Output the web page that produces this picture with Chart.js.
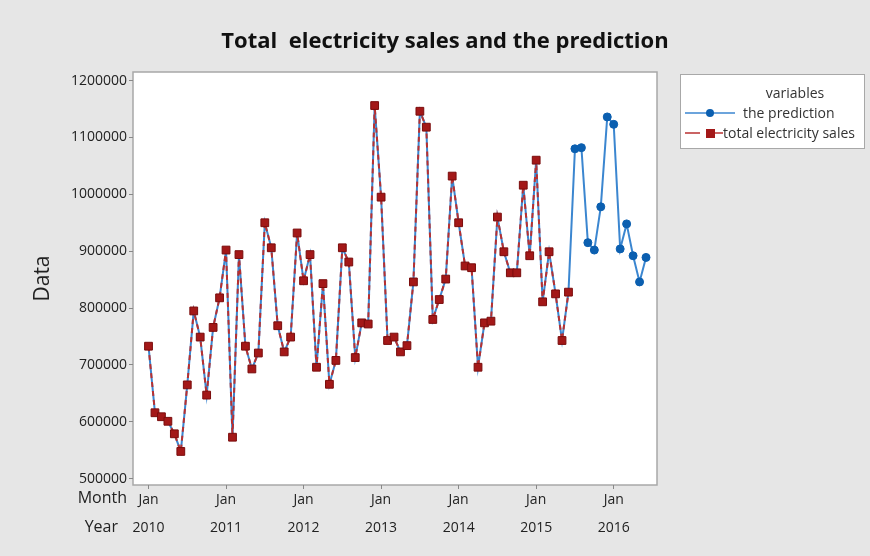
<!DOCTYPE html>
<html>
<head>
<meta charset="utf-8">
<script src="https://cdn.jsdelivr.net/npm/chart.js@4.4.0/dist/chart.umd.min.js"></script>
<style>
  html, body { margin: 0; padding: 0; background: #e6e6e6; }
</style>
</head>
<body>
<canvas id="myChart" width="870" height="556"></canvas>
<script>
// monthly sales, Jan 2010 .. Jun 2015
const sales = [
  733000, 616000, 609000, 601000, 579000, 548000, 665000, 795000, 749000, 647000, 766000, 818000,
  902000, 573000, 894000, 733000, 693000, 721000, 950000, 906000, 769000, 723000, 749000, 932000,
  848000, 894000, 696000, 843000, 666000, 708000, 906000, 881000, 713000, 774000, 772000, 1156000,
  995000, 743000, 749000, 723000, 734000, 846000, 1146000, 1118000, 780000, 815000, 851000, 1032000,
  950000, 874000, 871000, 696000, 774000, 777000, 960000, 899000, 862000, 862000, 1016000, 892000,
  1060000, 811000, 899000, 825000, 743000, 828000
];
// forecast, Jul 2015 .. Jun 2016
const forecast = [1080000, 1082000, 915000, 902000, 978000, 1136000, 1123000, 904000, 948000, 892000, 846000, 889000];
const prediction = sales.concat(forecast);

const xTickValues = [0, 12, 24, 36, 48, 60, 72];
const monthTicks = ["Jan", "Jan", "Jan", "Jan", "Jan", "Jan", "Jan"];
const yearTicks = ["2010", "2011", "2012", "2013", "2014", "2015", "2016"];
const yTicks = [500000, 600000, 700000, 800000, 900000, 1000000, 1100000, 1200000];

const FONT = "'Open Sans', 'Noto Sans', sans-serif";
const RED = "#a31818";
const BLUE = "#0b5fb0";

const frame = {
  id: "frame",
  beforeDraw(chart) {
    const { ctx, chartArea: a } = chart;
    ctx.save();
    ctx.fillStyle = "#e6e6e6";
    ctx.fillRect(0, 0, chart.width, chart.height);
    ctx.fillStyle = "#fff";
    ctx.fillRect(a.left, a.top, a.right - a.left, a.bottom - a.top);
    ctx.strokeStyle = "#a8a8a8";
    ctx.lineWidth = 1.5;
    ctx.strokeRect(a.left, a.top, a.right - a.left, a.bottom - a.top);
    ctx.restore();
  },
  afterDraw(chart) {
    const { ctx } = chart;
    const xs = chart.scales.x;
    ctx.save();
    // title
    ctx.fillStyle = "#111";
    ctx.font = "bold 22px " + FONT;
    ctx.textAlign = "center";
    ctx.textBaseline = "middle";
    ctx.fillText("Total  electricity sales and the prediction", 445, 42);

    // row headers for the two x label rows
    ctx.font = "16px " + FONT;
    ctx.fillStyle = "#222";
    ctx.textAlign = "right";
    ctx.fillText("Month", xs.left - 6, 498);
    ctx.fillText("Year", xs.left - 15, 527);

    // legend
    const lx = 680, ly = 74, lw = 184, lh = 74;
    ctx.fillStyle = "#fff";
    ctx.fillRect(lx, ly, lw, lh);
    ctx.strokeStyle = "#a8a8a8";
    ctx.lineWidth = 1;
    ctx.strokeRect(lx + 0.5, ly + 0.5, lw, lh);
    ctx.font = "14px " + FONT;
    ctx.fillStyle = "#333";
    ctx.textAlign = "center";
    ctx.fillText("variables", 795, 94);
    ctx.textAlign = "left";
    ctx.fillText("the prediction", 743, 114);
    ctx.fillText("total electricity sales", 723, 134);

    ctx.strokeStyle = "#3b86d0";
    ctx.lineWidth = 1.5;
    ctx.beginPath(); ctx.moveTo(685, 113); ctx.lineTo(735, 113); ctx.stroke();
    ctx.fillStyle = BLUE;
    ctx.beginPath(); ctx.arc(710, 113, 4, 0, Math.PI * 2); ctx.fill();

    ctx.strokeStyle = "#b83030";
    ctx.beginPath(); ctx.moveTo(685, 133); ctx.lineTo(700, 133); ctx.stroke();
    ctx.beginPath(); ctx.moveTo(715, 133); ctx.lineTo(723, 133); ctx.stroke();
    ctx.fillStyle = RED;
    ctx.fillRect(706, 129, 9, 9);
    ctx.restore();
  }
};

const ctx = document.querySelector("#myChart");
const chart = new Chart(ctx, {
  type: "line",
  data: {
    datasets: [
      {
        label: "total electricity sales",
        data: sales.map((v, i) => ({ x: i, y: v })),
        borderColor: "#b83030",
        borderWidth: 2,
        borderDash: [5, 4],
        pointStyle: "rect",
        pointRadius: 5.5,
        pointBackgroundColor: RED,
        pointBorderColor: "#7a0c0c",
        pointBorderWidth: 1,
        tension: 0,
      },
      {
        label: "the prediction",
        data: prediction.map((v, i) => ({ x: i, y: v })),
        borderColor: "#3b86d0",
        borderWidth: 2,
        pointStyle: "circle",
        pointRadius: prediction.map((v, i) => (i < sales.length ? 0 : 4)),
        pointBackgroundColor: BLUE,
        pointBorderColor: BLUE,
        pointBorderWidth: 1,
        tension: 0,
      },
    ],
  },
  options: {
    responsive: false,
    animation: false,
    devicePixelRatio: 1,
    layout: { padding: { left: 20, right: 213, top: 72, bottom: 0 } },
    plugins: {
      legend: { display: false },
      title: { display: false },
      tooltip: { enabled: false },
    },
    scales: {
      x: {
        type: "linear",
        min: -2.4,
        max: 78.7,
        afterBuildTicks: (scale) => { scale.ticks = xTickValues.map((v) => ({ value: v })); },
        afterFit: (scale) => { scale.height = 71; },
        grid: { drawOnChartArea: false, tickLength: 4, color: "#888" },
        border: { display: false },
        ticks: {
          autoSkip: false,
          maxRotation: 0,
          padding: -3,
          color: "#222",
          font: { family: FONT, size: 14, lineHeight: 2 },
          callback: (v, i) => [monthTicks[i], yearTicks[i]],
        },
      },
      y: {
        min: 489000,
        max: 1215000,
        afterBuildTicks: (scale) => { scale.ticks = yTicks.map((v) => ({ value: v })); },
        afterFit: (scale) => { scale.width = 113; },
        grid: { drawOnChartArea: false, tickLength: 4, color: "#888" },
        border: { display: false },
        ticks: {
          padding: 2,
          color: "#222",
          font: { family: FONT, size: 14 },
          callback: (v) => String(v),
        },
        title: {
          display: true,
          text: "Data",
          color: "#222",
          font: { family: FONT, size: 21 },
          padding: { top: 10, bottom: 0 },
        },
      },
    },
  },
  plugins: [frame],
});
</script>
</body>
</html>
